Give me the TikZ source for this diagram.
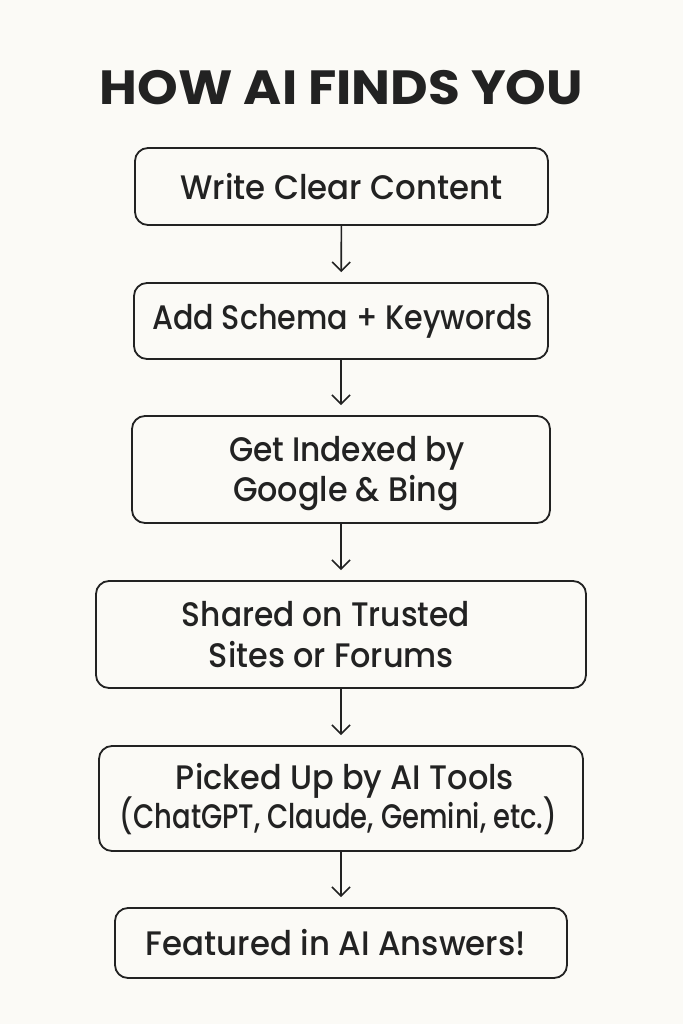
\documentclass[tikz,border=0pt]{standalone}
\usepackage{fontspec}
\usepackage{graphicx}
\setmainfont{Poppins}[UprightFont=* Medium, BoldFont=* Bold]
\usetikzlibrary{arrows.meta}
\definecolor{bg}{HTML}{FBFAF6}
\definecolor{ink}{HTML}{222222}
\newcommand\tline[3]{\makebox[0pt][c]{\hspace*{#1}\resizebox{#2}{\height}{#3}\hspace*{-#1}}}
\newcommand\dropline[2]{\raisebox{-#1}[\height][\depth]{#2}}
\tikzset{
  stepbox/.style={draw=ink, line width=1.8pt, rounded corners=13pt, inner sep=0pt, align=center, text=ink,
    font=\fontsize{34}{41}\selectfont},
  flow/.style={draw=ink, line width=1.6pt, -{Straight Barb[length=9pt,width=18pt,line width=1.6pt]}, shorten >=10pt}
}
\begin{document}
\begin{tikzpicture}[x=1pt,y=-1pt]
\useasboundingbox[fill=bg] (0,0) rectangle (683,1024);
\node[font=\bfseries\fontsize{48}{50}\selectfont, text=ink] (title) at (341.5,88) {\tline{0pt}{483pt}{HOW AI FINDS YOU}};
\node[stepbox, minimum width=413pt, minimum height=77pt] (s1) at (341.5,186.5) {\tline{0pt}{322pt}{Write Clear Content}};
\node[stepbox, minimum width=414pt, minimum height=76pt] (s2) at (341,321) {\tline{1.5pt}{381pt}{Add Schema + Keywords}};
\node[stepbox, minimum width=418pt, minimum height=107pt] (s3) at (341,469.5) {\dropline{5pt}{\tline{6pt}{236pt}{Get Indexed by}}\\\dropline{4pt}{\tline{5pt}{226pt}{Google \& Bing}}};
\node[stepbox, minimum width=490pt, minimum height=107pt] (s4) at (341,634.5) {\tline{-15pt}{288pt}{Shared on Trusted}\\\tline{-9.5pt}{245pt}{Sites or Forums}};
\node[stepbox, minimum width=484pt, minimum height=105pt] (s5) at (341,798.5) {\dropline{1.5pt}{\tline{4pt}{338pt}{Picked Up by AI Tools}}\\\tline{-2.5pt}{437pt}{(ChatGPT, Claude, Gemini, etc.)}};
\node[stepbox, minimum width=452pt, minimum height=70pt] (s6) at (341,943) {\tline{-5pt}{380pt}{Featured in AI Answers!}};
\draw[flow] (s1) -- (s2);
\draw[flow] (s2) -- (s3);
\draw[flow] (s3) -- (s4);
\draw[flow] (s4) -- (s5);
\draw[flow] (s5) -- (s6);
\end{tikzpicture}
\end{document}
